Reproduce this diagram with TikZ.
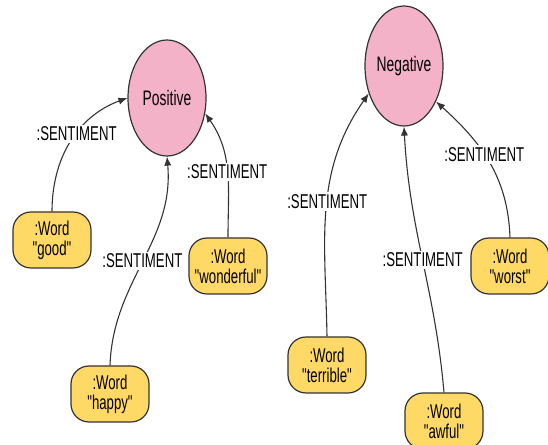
\documentclass[tikz,border=0pt]{standalone}
\usepackage{fontspec}
\setmainfont{Liberation Sans}[FakeStretch=0.66, Ligatures=TeXOff]
\usepackage{tikz}
\usetikzlibrary{arrows.meta,shapes.geometric}
\definecolor{sentPink}{RGB}{243,178,200}
\definecolor{wordGold}{RGB}{255,217,102}
\colorlet{relLine}{black!80}
\tikzset{
  sentnode/.style={
    ellipse, draw=relLine, fill=sentPink, line width=0.6pt,
    minimum width=39pt, minimum height=58pt, inner sep=0pt,
    font=\fontsize{10.5}{12}\selectfont
  },
  wordnode/.style={
    rectangle, rounded corners=9pt, draw=relLine, fill=wordGold,
    line width=0.6pt, minimum width=39pt, minimum height=28pt,
    align=center, inner sep=1pt, font=\fontsize{10}{10}\selectfont
  },
  relarrow/.style={-{Latex[length=4.5pt,width=3.6pt]}, line width=0.55pt, draw=relLine},
  rellabel/.style={fill=white, inner sep=1pt, font=\fontsize{10}{11}\selectfont}
}
\begin{document}
\begin{tikzpicture}[x=0.5pt,y=0.5pt]
  \useasboundingbox (0,0) rectangle (548,445);
  \clip (0,0) rectangle (548,445);

  % sentiment nodes
  \node[sentnode] (pos) at (167,347) {Positive};
  \node[sentnode, minimum height=60pt] (neg) at (404,379) {Negative};

  % words
  \node[wordnode] (good) at (52,205) {:Word\\"good"};
  \node[wordnode] (happy) at (110,51) {:Word\\"happy"};
  \node[wordnode] (wonderful) at (228,179) {:Word\\"wonderful"};
  \node[wordnode] (terrible) at (327,80) {:Word\\"terrible"};
  \node[wordnode] (awful) at (444,24) {:Word\\"awful"};
  \node[wordnode] (worst) at (510,179) {:Word\\"worst"};

  % relationships
  \draw[relarrow] (good.north) to[out=90,in=200]
    node[rellabel,pos=0.57] {:SENTIMENT} (pos.west);
  \draw[relarrow] (happy.north) to[out=88,in=-85]
    node[rellabel,pos=0.5] {:SENTIMENT} (pos.south);
  \draw[relarrow] (wonderful.north) to[out=90,in=-55]
    node[rellabel,pos=0.5] {:SENTIMENT} (pos.-22);
  \draw[relarrow] (terrible.north) to[out=91,in=-125]
    node[rellabel,pos=0.53] {:SENTIMENT} (neg.218);
  \draw[relarrow] (awful.north) to[out=95,in=-87]
    node[rellabel,pos=0.5] {:SENTIMENT} (neg.south);
  \draw[relarrow] (worst.north) to[out=92,in=-42]
    node[rellabel,pos=0.56] {:SENTIMENT} (neg.-48);
\end{tikzpicture}
\end{document}
